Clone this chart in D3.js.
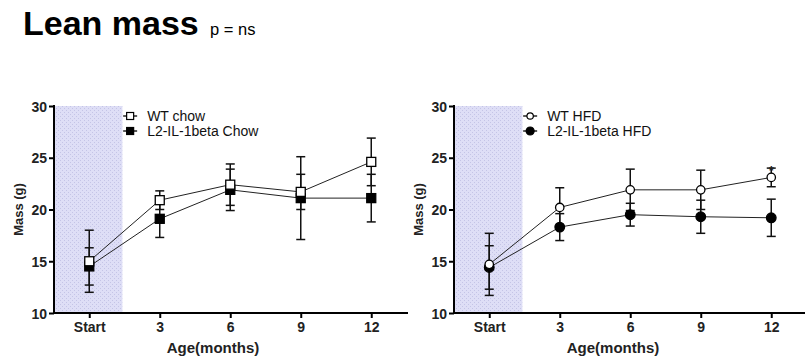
<!DOCTYPE html>
<html>
<head>
 <meta charset="utf-8"/>
 <script src="https://d3js.org/d3.v7.min.js"></script>
 <style>
  body { margin: 0; background: #fff; }
  text { font-family: "Liberation Sans", Arial, sans-serif; }
 </style>
</head>
<body>
 <div id="graph"></div>
 <script type="text/javascript">
   // values (mean and error)
   var ages = ["Start", "3", "6", "9", "12"];
   var yTicks = [10, 15, 20, 25, 30];
   var wtChow = [15.0, 20.9, 22.4, 21.7, 24.6];
   var wtChowErr = [3.0, 0.9, 2.0, 1.7, 2.3];
   var l2Chow = [14.5, 19.1, 21.9, 21.1, 21.1];
   var l2ChowErr = [1.8, 1.8, 2.0, 4.0, 2.3];
   var wtHfd = [14.7, 20.2, 21.9, 21.9, 23.1];
   var wtHfdErr = [3.0, 1.9, 2.0, 1.9, 0.9];
   var l2Hfd = [14.4, 18.3, 19.5, 19.3, 19.2];
   var l2HfdErr = [2.1, 1.3, 1.1, 1.6, 1.8];

   var width = 805, height = 358;
   var svg = d3.select("#graph").append("svg")
       .attr("width", width).attr("height", height);

   // dotted band pattern
   var pat = svg.append("defs").append("pattern")
       .attr("id", "dots").attr("patternUnits", "userSpaceOnUse")
       .attr("width", 4).attr("height", 4);
   pat.append("rect").attr("width", 4).attr("height", 4).attr("fill", "#dedef6");
   pat.append("rect").attr("x", 0).attr("y", 0).attr("width", 1).attr("height", 1).attr("fill", "#c4c4e6");
   pat.append("rect").attr("x", 2).attr("y", 2).attr("width", 1).attr("height", 1).attr("fill", "#c4c4e6");

   svg.append("text").attr("x", 23).attr("y", 35)
      .style("font-size", "34px").style("font-weight", "bold").text("Lean mass");
   svg.append("text").attr("x", 210).attr("y", 35)
      .style("font-size", "16.5px").text("p = ns");

   var yScale = d3.scaleLinear().domain([10, 30]).range([313, 106]);

   function drawPanel(ox, axisEnd, series, marker, star) {
     var g = svg.append("g");
     var xScale = d3.scaleLinear().domain([-0.5, 4]).range([ox, ox + 317.25]);

     g.append("rect")
      .attr("x", xScale(-0.5)).attr("y", yScale(30))
      .attr("width", xScale(0.47) - xScale(-0.5))
      .attr("height", yScale(10) - yScale(30))
      .attr("fill", "url(#dots)");

     var yAxis = d3.axisLeft(yScale).tickValues(yTicks).tickSize(5).tickPadding(2);
     var ya = g.append("g").attr("transform", "translate(" + xScale(-0.5) + ",0)").call(yAxis);
     ya.select(".domain").attr("stroke-width", 2).attr("d", "M0," + (yScale(30) - 1) + "V" + (yScale(10) + 1));
     ya.selectAll(".tick line").attr("stroke-width", 2);
     ya.selectAll("text").style("font-size", "14px").style("font-weight", "bold")
       .attr("fill", "#222").attr("dy", "0.36em");

     var xAxis = d3.axisBottom(xScale).tickValues([0, 1, 2, 3, 4])
         .tickFormat(function(d) { return ages[d]; }).tickSize(5).tickPadding(4);
     var xa = g.append("g").attr("transform", "translate(0," + yScale(10) + ")").call(xAxis);
     xa.select(".domain").attr("stroke-width", 2).attr("d", "M" + xScale(-0.5) + ",0H" + axisEnd);
     xa.selectAll(".tick line").attr("stroke-width", 2);
     xa.selectAll("text").style("font-size", "14px").style("font-weight", "bold").attr("fill", "#222");

     g.append("text").attr("x", ox + 159).attr("y", 353)
      .attr("text-anchor", "middle").style("font-size", "15px").style("font-weight", "bold")
      .attr("fill", "#222").text("Age(months)");
     g.append("text").attr("transform", "translate(" + (ox - 31) + "," + yScale(20) + ") rotate(-90)")
      .attr("text-anchor", "middle").style("font-size", "13px").style("font-weight", "bold")
      .attr("fill", "#222").text("Mass (g)");

     var line = d3.line().x(function(d, i) { return xScale(i); }).y(function(d) { return yScale(d); });

     function drawMarker(sel, x, y, filled) {
       if (marker === "square") {
         sel.append("rect").attr("x", x - 4.5).attr("y", y - 4.5).attr("width", 9).attr("height", 9)
            .attr("fill", filled ? "#000" : "#fff").attr("stroke", "#000").attr("stroke-width", 1.3);
       } else {
         sel.append("circle").attr("cx", x).attr("cy", y).attr("r", filled ? 4.8 : 4.2)
            .attr("fill", filled ? "#000" : "#fff").attr("stroke", "#000").attr("stroke-width", 1.3);
       }
     }

     series.slice().reverse().forEach(function(s) {
       g.append("path").datum(s.values).attr("d", line)
        .attr("fill", "none").attr("stroke", "#222").attr("stroke-width", 1);
     });
     series.slice().reverse().forEach(function(s) {
       s.values.forEach(function(v, i) {
         var x = xScale(i), e = s.err[i];
         g.append("line").attr("x1", x).attr("x2", x)
          .attr("y1", yScale(v - e)).attr("y2", yScale(v + e))
          .attr("stroke", "#111").attr("stroke-width", 1.5);
         [v - e, v + e].forEach(function(c) {
           g.append("line").attr("x1", x - 4.5).attr("x2", x + 4.5)
            .attr("y1", yScale(c)).attr("y2", yScale(c))
            .attr("stroke", "#111").attr("stroke-width", 1.5);
         });
       });
     });
     series.slice().reverse().forEach(function(s) {
       s.values.forEach(function(v, i) { drawMarker(g, xScale(i), yScale(v), s.filled); });
     });

     // legend
     series.forEach(function(s, k) {
       var ly = 116 + k * 15, lx = xScale(0.58);
       g.append("line").attr("x1", lx - 7).attr("x2", lx + 7).attr("y1", ly).attr("y2", ly)
        .attr("stroke", "#000").attr("stroke-width", 1.3);
       var lm = g.append("g");
       if (marker === "square") {
         lm.append("rect").attr("x", lx - 3.5).attr("y", ly - 3.5).attr("width", 7).attr("height", 7)
           .attr("fill", s.filled ? "#000" : "#fff").attr("stroke", "#000").attr("stroke-width", 1.2);
       } else {
         lm.append("circle").attr("cx", lx).attr("cy", ly).attr("r", s.filled ? 4 : 3.2)
           .attr("fill", s.filled ? "#000" : "#fff").attr("stroke", "#000").attr("stroke-width", 1.2);
       }
       g.append("text").attr("x", lx + 17).attr("y", ly + 5)
        .style("font-size", "14px").attr("fill", "#111").text(s.name);
     });

     if (star) {
       g.append("text").attr("x", xScale(4)).attr("y", yScale(24.0) + 7)
        .attr("text-anchor", "middle").style("font-size", "13px").style("font-weight", "bold")
        .attr("fill", "#222").text("*");
     }
   }

   drawPanel(54, 408, [
     { name: "WT chow", values: wtChow, err: wtChowErr, filled: false },
     { name: "L2-IL-1beta Chow", values: l2Chow, err: l2ChowErr, filled: true }
   ], "square", false);
   drawPanel(454, 805, [
     { name: "WT HFD", values: wtHfd, err: wtHfdErr, filled: false },
     { name: "L2-IL-1beta HFD", values: l2Hfd, err: l2HfdErr, filled: true }
   ], "circle", true);
 </script>
</body>
</html>
